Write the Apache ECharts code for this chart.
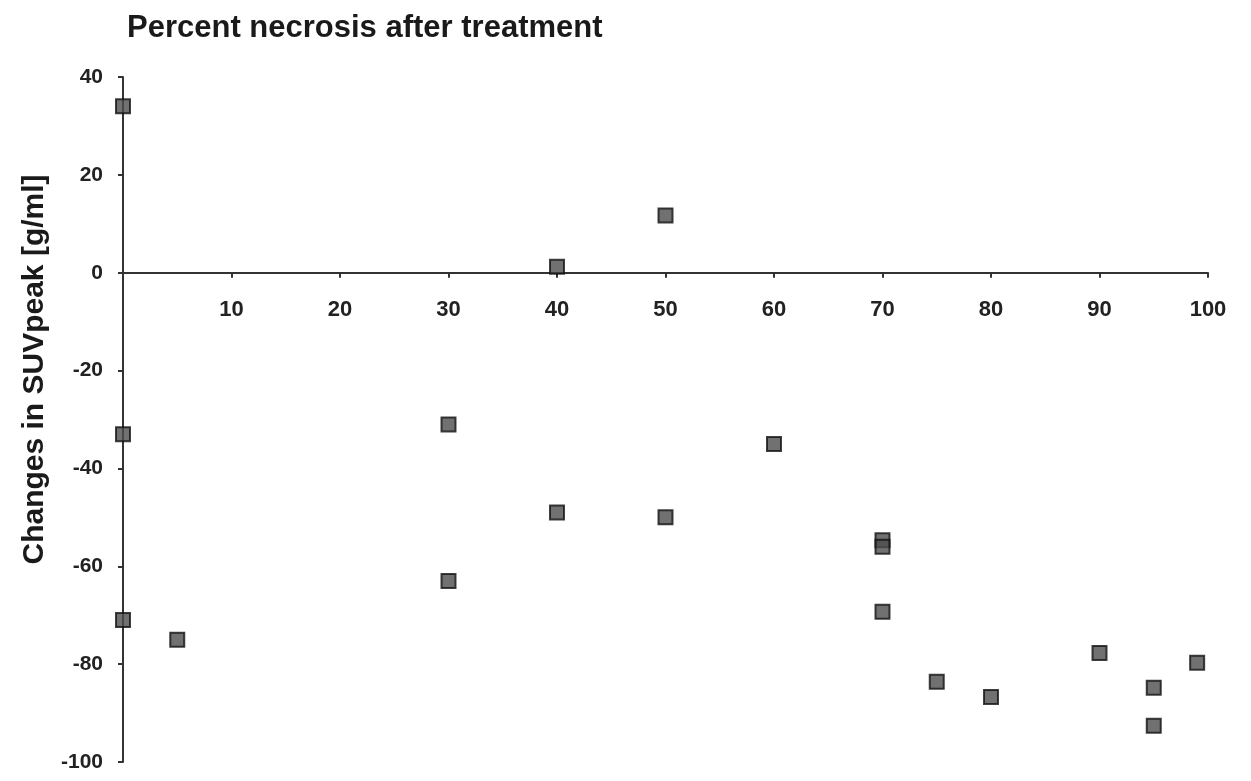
<!DOCTYPE html>
<html>
<head>
<meta charset="utf-8">
<script src="https://cdn.jsdelivr.net/npm/echarts@6/dist/echarts.min.js"></script>
<style>html,body{margin:0;padding:0;background:#fff;}#c{width:1251px;height:781px;}</style>
</head>
<body>
<div id="c"></div>
<script>
const titleText = "Percent necrosis after treatment";
const yAxisName = "Changes in SUVpeak [g/ml]";
const necrosis = [0, 0, 0, 5, 30, 30, 40, 40, 50, 50, 60, 70, 70, 70, 75, 80, 90, 95, 95, 99];
const suvChange = [34, -33, -71, -75, -31, -63, 1.2, -49, 11.7, -50, -35, -54.7, -56, -69.3, -83.6, -86.7, -77.7, -84.8, -92.6, -79.7];
const xTicks = [0, 10, 20, 30, 40, 50, 60, 70, 80, 90, 100];
const yTicks = [-100, -80, -60, -40, -20, 0, 20, 40];

const chart = echarts.init(document.getElementById('c'));
const font = "'Liberation Sans', Arial, sans-serif";
const option = {
  animation: false,
  backgroundColor: '#fff',
  title: {
    text: titleText,
    left: 122, top: 8,
    textStyle: {fontFamily: font, fontSize: 31, fontWeight: 'bold', color: '#1a1a1a'}
  },
  grid: {left: 123, right: 43, top: 77, bottom: 19, containLabel: false, outerBoundsMode: 'none'},
  xAxis: {
    type: 'value',
    min: xTicks[0], max: xTicks[xTicks.length - 1], interval: 10,
    position: 'bottom',
    offset: 0,
    axisLine: {onZero: false, lineStyle: {color: '#333', width: 2}},
    axisTick: {show: true, inside: false, length: 5, lineStyle: {color: '#333', width: 2}},
    axisLabel: {
      margin: 26,
      fontFamily: font, fontSize: 22, fontWeight: 'bold', color: '#222',
      formatter: v => (v === 0 ? '' : String(v))
    },
    splitLine: {show: false}
  },
  yAxis: {
    type: 'value',
    min: yTicks[0], max: yTicks[yTicks.length - 1], interval: 20,
    name: yAxisName,
    nameLocation: 'middle',
    nameGap: 65,
    nameRotate: 90,
    nameTextStyle: {fontFamily: font, fontSize: 30, fontWeight: 'bold', color: '#1a1a1a', padding: [0, 0, 0, 100]},
    axisLine: {show: true, onZero: false, lineStyle: {color: '#333', width: 2}},
    axisTick: {show: true, inside: false, length: 5, lineStyle: {color: '#333', width: 2}},
    axisLabel: {margin: 20, fontFamily: font, fontSize: 21, fontWeight: 'bold', color: '#222'},
    splitLine: {show: false}
  },
  series: [{
    type: 'scatter',
    clip: false,
    symbol: 'rect',
    symbolSize: 14,
    itemStyle: {color: '#4d4d4d', borderColor: '#111', borderWidth: 2},
    data: necrosis.map((x, i) => [x, suvChange[i]])
  }]
};
chart.setOption(option);
// move the x axis (line, ticks, labels) up to y = 0 using the library's own scale
const yZero = chart.convertToPixel({yAxisIndex: 0}, 0);
const yBottom = chart.convertToPixel({yAxisIndex: 0}, yTicks[0]);
chart.setOption({xAxis: {offset: yZero - yBottom}});
</script>
</body>
</html>
